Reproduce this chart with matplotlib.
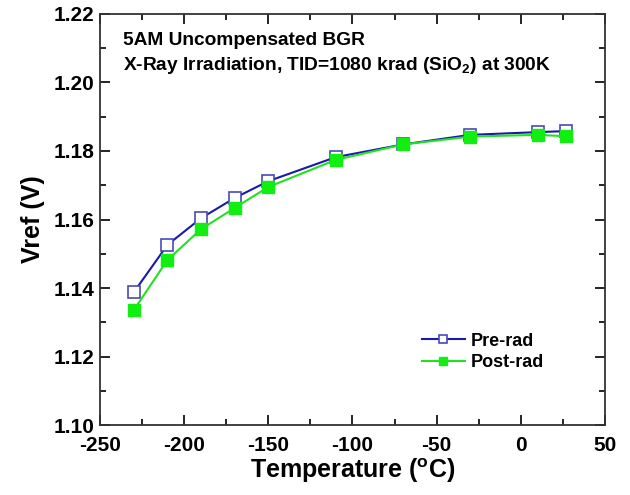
import matplotlib
matplotlib.use("Agg")
import matplotlib.pyplot as plt
from matplotlib.ticker import MultipleLocator, FormatStrFormatter

plt.rcParams["font.family"] = ["Liberation Sans", "DejaVu Sans"]
plt.rcParams["font.weight"] = "bold"
plt.rcParams["axes.unicode_minus"] = False
plt.rcParams["mathtext.fontset"] = "custom"
plt.rcParams["mathtext.bf"] = "Liberation Sans:bold"
plt.rcParams["mathtext.rm"] = "Liberation Sans:bold"

temperature = [-230, -210, -190, -170, -150, -110, -70, -30, 10, 27]
pre_rad = [1.1388, 1.1526, 1.1604, 1.1663, 1.1712, 1.1782, 1.1819, 1.1847, 1.1855, 1.1858]
post_rad = [1.1336, 1.1482, 1.1572, 1.1634, 1.1695, 1.1774, 1.1819, 1.1842, 1.1847, 1.1843]

fig = plt.figure(figsize=(6.3, 4.95), dpi=100)
ax = fig.add_axes([0.159, 0.141, 0.801, 0.831])

ax.plot(temperature, pre_rad, color="#1a1aa8", lw=1.5, marker="s", ms=8,
        mfc="white", mec="#4a4ab8", mew=1.2, label="Pre-rad")
ax.plot(temperature, post_rad, color="#22e022", lw=1.5, marker="s", ms=8,
        mfc="#11ee11", mec="#11ee11", label="Post-rad")

ax.set_xlim(-250, 50)
ax.set_ylim(1.10, 1.22)
ax.xaxis.set_major_locator(MultipleLocator(50))
ax.xaxis.set_minor_locator(MultipleLocator(25))
ax.yaxis.set_major_locator(MultipleLocator(0.02))
ax.yaxis.set_minor_locator(MultipleLocator(0.01))
ax.yaxis.set_major_formatter(FormatStrFormatter("%.2f"))
ax.tick_params(which="both", direction="in", top=True, right=True, labelsize=15, width=1.2)
ax.tick_params(which="major", length=7)
ax.tick_params(which="minor", length=4)
ax.tick_params(axis="x", pad=8)
ax.tick_params(axis="y", pad=4)
for s in ax.spines.values():
    s.set_linewidth(1.3)
    s.set_color("#333333")

ax.set_xlabel("Temperature ($^{\\mathrm{o}}$C)", fontsize=18, fontweight="bold", labelpad=1)
ax.set_ylabel("Vref (V)", fontsize=18, fontweight="bold", labelpad=6)

ax.text(0.045, 0.955, "5AM Uncompensated BGR", transform=ax.transAxes,
        fontsize=13.8, fontweight="bold", va="top")
ax.text(0.045, 0.9, "X-Ray Irradiation, TID=1080 krad (SiO$_\\mathrm{2}$) at 300K",
        transform=ax.transAxes, fontsize=13.8, fontweight="bold", va="top")

ax.legend(loc="lower right", bbox_to_anchor=(0.90, 0.105), frameon=False,
          fontsize=13, handlelength=2.4, handletextpad=0.3, borderaxespad=0.2,
          labelspacing=0.25, markerscale=0.75)

fig.savefig("out.png", dpi=100)
